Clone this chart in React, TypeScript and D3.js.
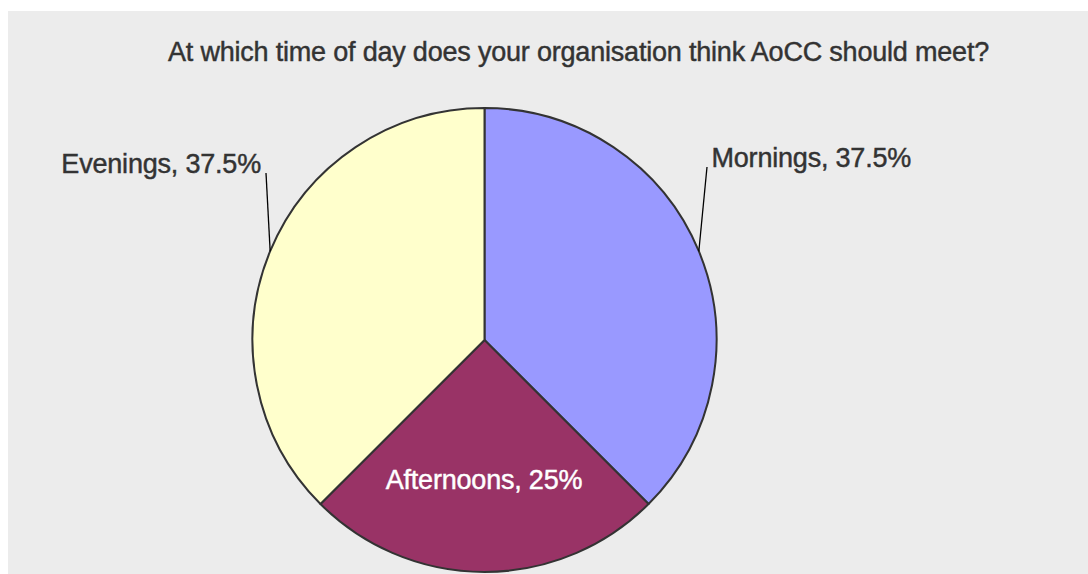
import React from "react";
import * as d3 from "d3";

const categories = ["Mornings", "Afternoons", "Evenings"];
const values = [37.5, 25, 37.5];
const labels = ["Mornings, 37.5%", "Afternoons, 25%", "Evenings, 37.5%"];
const colors = ["#9999ff", "#993366", "#ffffcc"];
const title = "At which time of day does your organisation think AoCC should meet?";

const W = 1088;
const H = 574;
const cx = 484.5;
const cy = 340;
const R = 232;

export default function App() {
  const pie = d3.pie<number>().sort(null).value((d) => d)(values);
  const arc = d3.arc<d3.PieArcDatum<number>>().innerRadius(0).outerRadius(R);
  const font = "'Liberation Sans', Arial, sans-serif";
  const fs = 27;
  const ls = -0.2;

  const labelLayout: any[] = [
    { x: 711.5, y: 167, anchor: "start", lx: 707, ly: 167, fill: "#333333" },
    { x: 484, y: 489, anchor: "middle", lx: null, ly: null, fill: "#ffffff" },
    { x: 261, y: 173, anchor: "end", lx: 266, ly: 173, fill: "#333333" },
  ];

  return (
    <svg width={W} height={H} style={{ position: "absolute", left: 0, top: 0 }}>
      <rect x={0} y={0} width={W} height={H} fill="#ffffff" />
      <rect x={8} y={11} width={W - 8} height={H - 11} fill="#ececec" />
      <text
        x={578.5}
        y={61}
        textAnchor="middle"
        fontFamily={font}
        fontSize={fs}
        fill="#333333"
        stroke="#333333"
        strokeWidth={0.45}
        letterSpacing={ls}
      >
        {title}
      </text>
      <g transform={`translate(${cx},${cy})`}>
        {pie.map((p, i) => (
          <path
            key={categories[i]}
            d={arc(p) || ""}
            fill={colors[i]}
            stroke="#333333"
            strokeWidth={2}
            strokeLinejoin="round"
          />
        ))}
      </g>
      {pie.map((p, i) => {
        const L = labelLayout[i];
        const mid = (p.startAngle + p.endAngle) / 2;
        const ex = cx + R * Math.sin(mid);
        const ey = cy - R * Math.cos(mid);
        return (
          <g key={"l" + i}>
            {L.lx !== null && (
              <line x1={L.lx} y1={L.ly} x2={ex} y2={ey} stroke="#000000" strokeWidth={1.3} />
            )}
            <text
              x={L.x}
              y={L.y}
              textAnchor={L.anchor}
              fontFamily={font}
              fontSize={fs}
              fill={L.fill}
              stroke={L.fill}
              strokeWidth={0.45}
              letterSpacing={ls}
            >
              {labels[i]}
            </text>
          </g>
        );
      })}
    </svg>
  );
}
